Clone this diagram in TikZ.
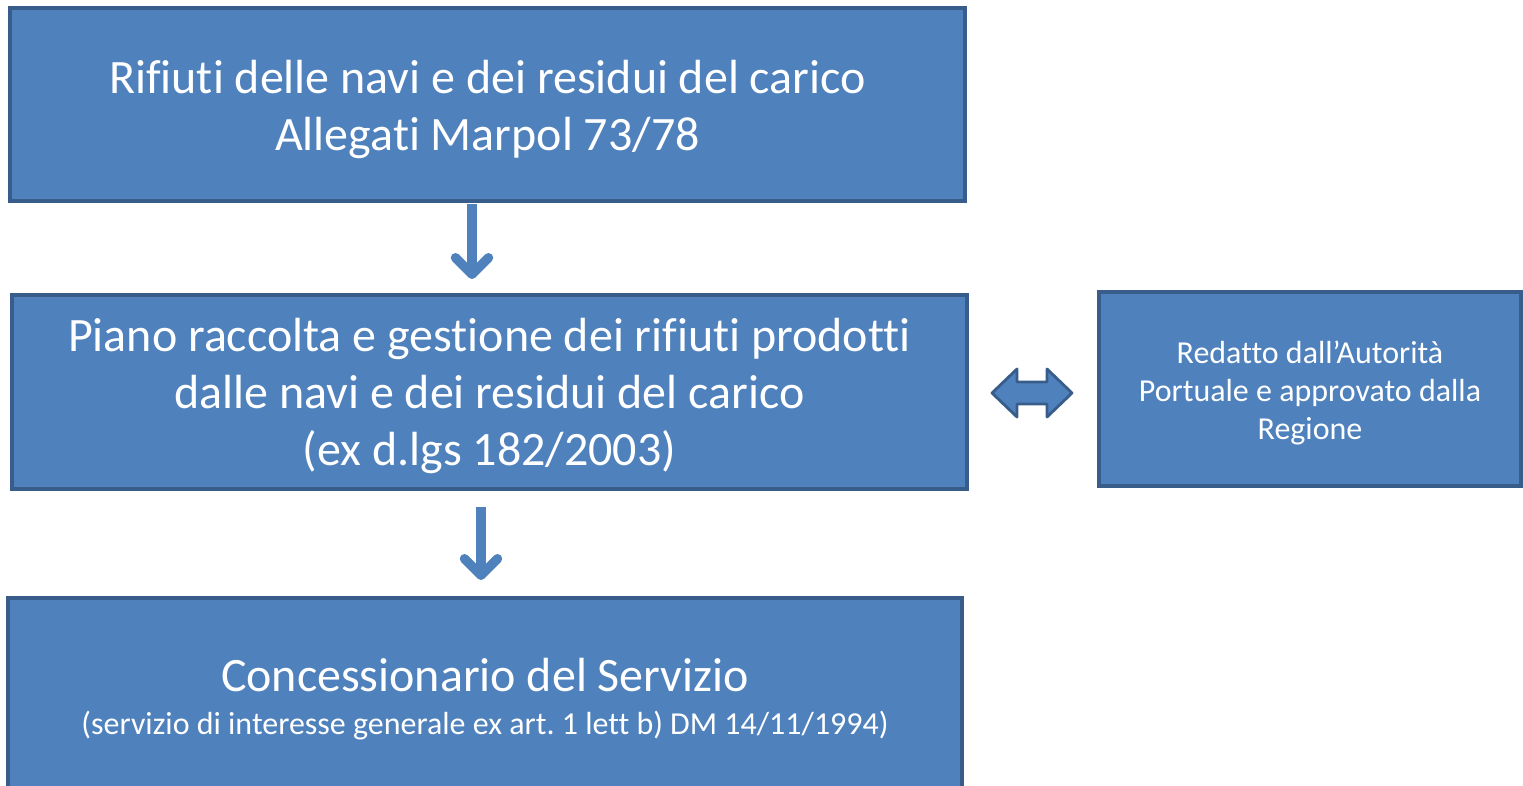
\documentclass[tikz,border=0pt]{standalone}
\usepackage{fontspec}
\setmainfont{Carlito}[Ligatures=CommonOff]
\usetikzlibrary{arrows.meta,calc}
\definecolor{boxfill}{HTML}{4F81BD}
\definecolor{boxline}{HTML}{385D8A}
\newcommand{\bigtxt}{\fontsize{27.3}{32.4}\selectfont}
\newcommand{\smalltxt}{\fontsize{18.2}{21.6}\selectfont}

\begin{document}
\begin{tikzpicture}[x=0.02cm, y=-0.02cm,
 box/.style={draw=boxline, fill=boxfill, line width=2.3pt, text=white, inner sep=0pt, font=\bigtxt},
 down/.style={-{Straight Barb[round,length=3.3mm,width=6.6mm]}, draw=boxfill, line width=5.4pt},
 dblarrow/.style={draw=boxline, fill=boxfill, line width=1.6pt, line join=round}]
\useasboundingbox (0,0) rectangle (1523,786);
\clip (0,0) rectangle (1523,786);
\node[box, minimum width=19.1cm, minimum height=3.86cm] (t1) at (487.5, 104.5) {\begin{tabular}{@{}c@{}} \noalign{\vskip6.8pt} Rifiuti delle navi e dei residui del carico \\ Allegati Marpol 73/78 \end{tabular}};
\node[box, minimum width=19.1cm, minimum height=3.88cm] (t2) at (489.5, 392) {\begin{tabular}{@{}c@{}} \noalign{\vskip6.2pt} Piano raccolta e gestione dei rifiuti prodotti \\ dalle navi e dei residui del carico \\ (ex d.lgs 182/2003) \end{tabular}};
\node[box, minimum width=19.08cm, minimum height=4.04cm] (t3) at (485, 699) {\begin{tabular}{@{}c@{}} \noalign{\vskip2.8pt} Concessionario del Servizio \\ \noalign{\vskip-8pt} {\smalltxt (servizio di interesse generale ex art.\ 1 lett b) DM 14/11/1994)} \end{tabular}};
\node[box, font=\smalltxt, minimum width=8.44cm, minimum height=3.88cm] (t4) at (1310, 389) {\begin{tabular}{@{}c@{}} \noalign{\vskip5.7pt} Redatto dall’Autorità \\ Portuale e approvato dalla \\ Regione \end{tabular}};
% arrows between the boxes
\draw[down] ($(t1.south)+(-15.5,1)$) -- ($(t2.north)+(-17.5,-14)$);
\draw[down] ($(t2.south)+(-8.5,16)$) -- ($(t3.north)+(-4,-16)$);
\coordinate (da) at (1032, 393);
\draw[dblarrow, shift={(da)}] (-40,0) -- (-15,-24) -- (-15,-11) -- (15,-11) -- (15,-24) -- (40,0) -- (15,24) -- (15,11) -- (-15,11) -- (-15,24) -- cycle;
\end{tikzpicture}
\end{document}
